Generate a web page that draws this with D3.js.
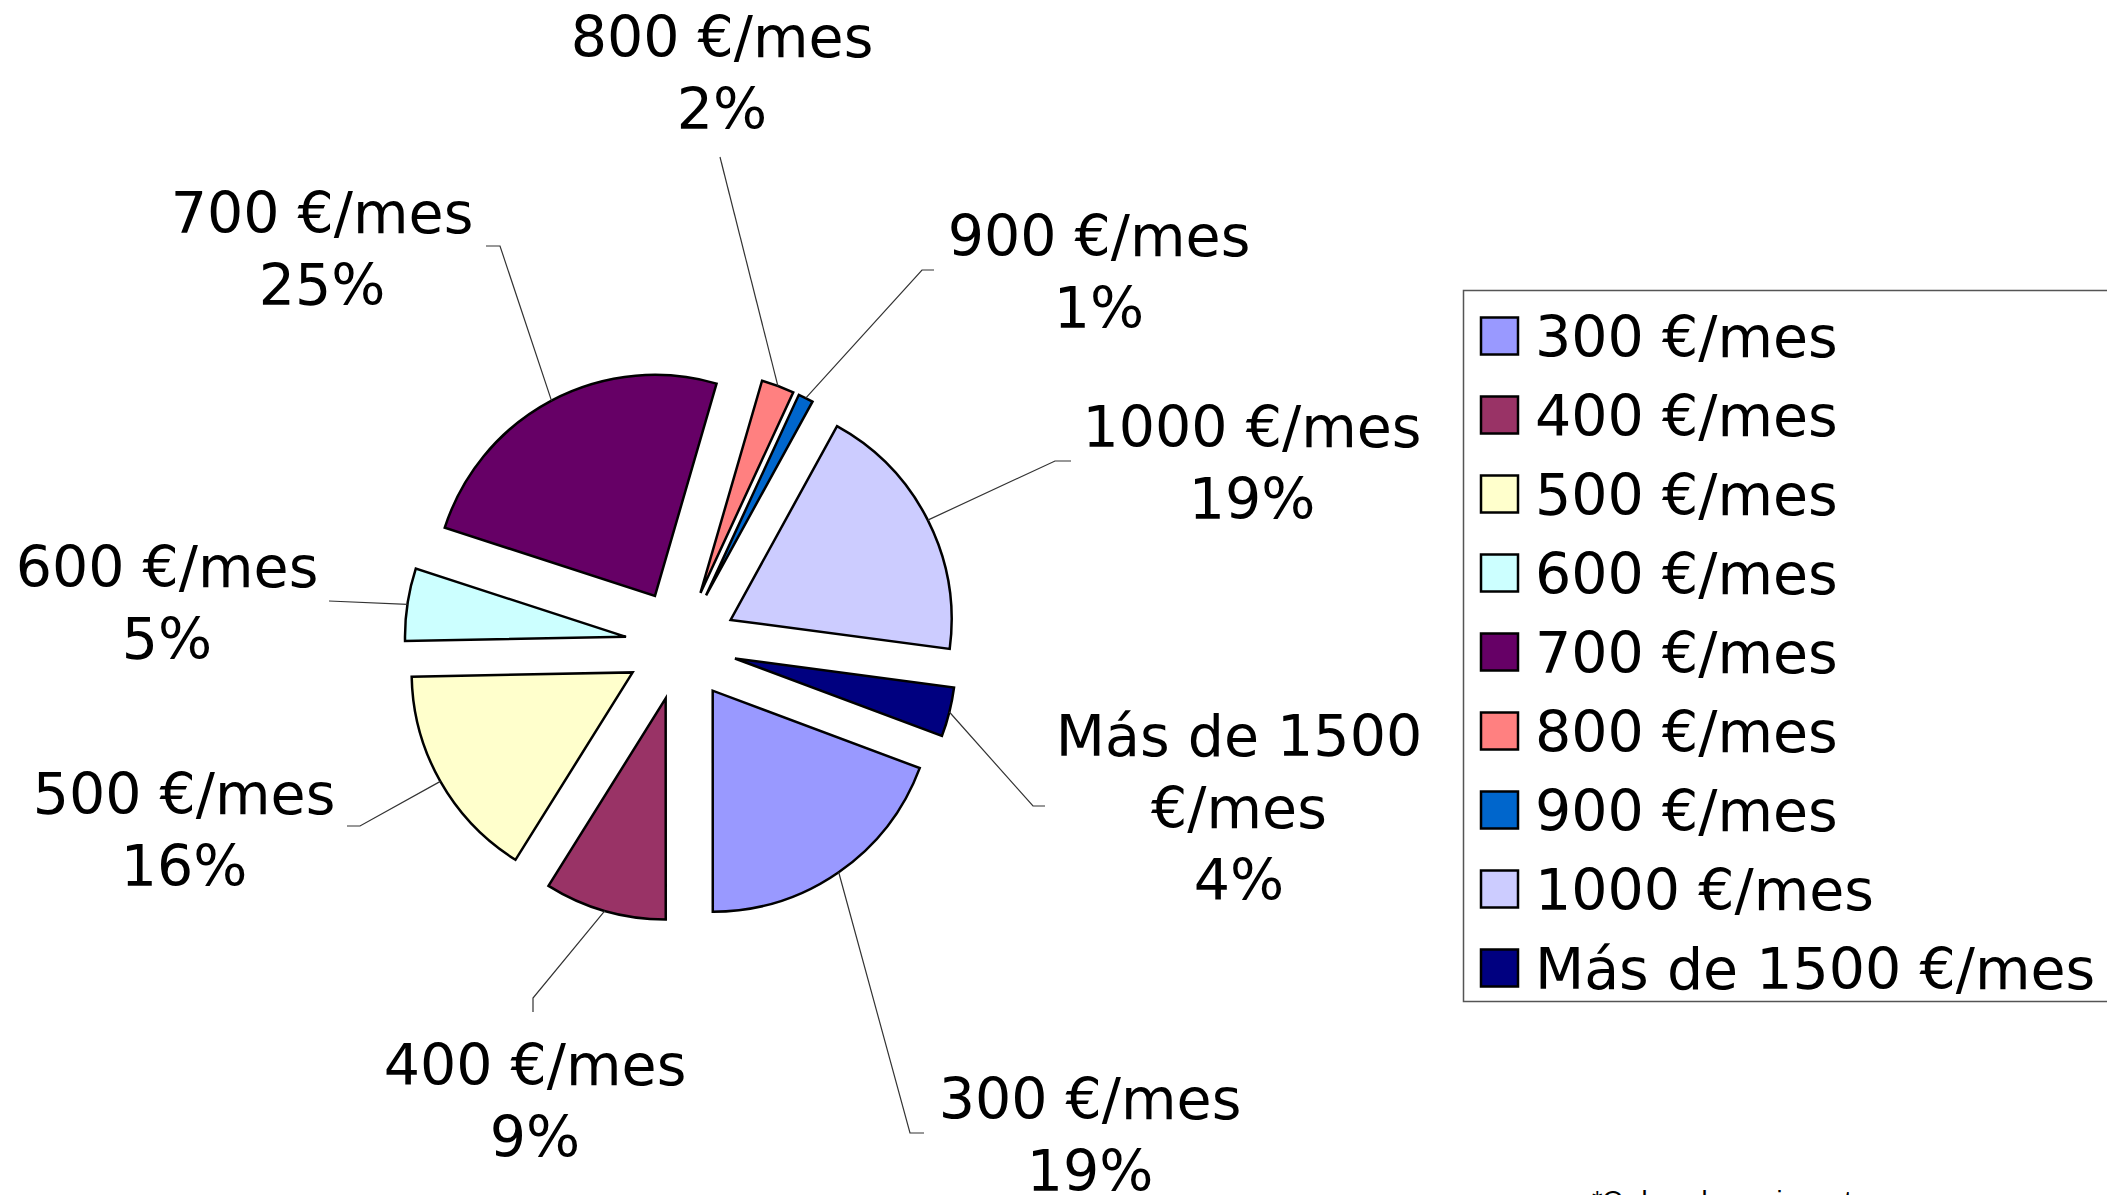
<!DOCTYPE html>
<html>
<head>
<meta charset="utf-8">
<title>Ingresos por mes</title>
<style>
    body, html {
        margin: 0;
        padding: 0;
        background: #fff;
        overflow: hidden;
    }
    .lbl, .legend text {
        font-family: "DejaVu Sans", Verdana, sans-serif;
        font-size: 57px;
        fill: #000;
    }
    .note {
        font-family: "Liberation Sans", Arial, sans-serif;
        font-size: 27px;
    }
</style>
</head>
<body>
<div id="chart"></div>
<script src="https://cdn.jsdelivr.net/npm/d3@7"></script>
<script>

    // data (share of answers, in %)
    var categories = ['300 €/mes', '400 €/mes', '500 €/mes', '600 €/mes', '700 €/mes',
                      '800 €/mes', '900 €/mes', '1000 €/mes', 'Más de 1500 €/mes'];
    var values = [19.3, 8.9, 15.8, 5.3, 24.5, 2.4, 1.1, 19.1, 3.6];
    var colors = ['#9999FF', '#993366', '#FFFFCC', '#CCFFFF', '#660066',
                  '#FF8080', '#0066CC', '#CCCCFF', '#000080'];
    var note = '*Ordenado por importe';

    var width = 2107;
    var height = 1195;
    var cx = 681, cy = 645;
    var radius = 221;
    var explode = 55.6;
    var startDeg = 110.5;
    var lineH = 72;

    // where Excel put each data label: text centre x, first line centre y, leader end points
    var labelLayout = {
        '300 €/mes':          { x: 1090, y: 1098, pts: [[924, 1133], [910, 1133]] },
        '400 €/mes':          { x: 535,  y: 1064, pts: [[533, 1012], [533, 998]] },
        '500 €/mes':          { x: 184,  y: 793,  pts: [[347, 826], [360, 826]] },
        '600 €/mes':          { x: 167,  y: 566,  pts: [[329, 601]] },
        '700 €/mes':          { x: 322,  y: 212,  pts: [[486, 246], [500, 246]] },
        '800 €/mes':          { x: 722,  y: 36,   pts: [[720, 157]] },
        '900 €/mes':          { x: 1099, y: 235,  pts: [[934, 270], [922, 270]] },
        '1000 €/mes':         { x: 1252, y: 426,  pts: [[1071, 461], [1055, 461]] },
        'Más de 1500 €/mes':  { x: 1239, y: 735,  pts: [[1045, 806], [1033, 806]] }
    };

    var total = d3.sum(values);
    var dataset = categories.map(function(c, i) {
        return { label: c, count: values[i] };
    });

    var color = d3.scaleOrdinal().domain(categories).range(colors);

    var svg = d3.select('#chart')
        .append('svg')
        .attr('width', width)
        .attr('height', height);

    var pie = d3.pie()
        .value(function(d) { return d.count; })
        .sort(null)
        .startAngle(startDeg * Math.PI / 180)
        .endAngle(startDeg * Math.PI / 180 + 2 * Math.PI);

    var arc = d3.arc()
        .innerRadius(0)
        .outerRadius(radius);

    function offset(d, r) {
        var a = (d.startAngle + d.endAngle) / 2;
        return [r * Math.sin(a), -r * Math.cos(a)];
    }

    var arcs = pie(dataset);

    var slices = svg.append('g')
        .attr('transform', 'translate(' + cx + ',' + cy + ')');

    slices.selectAll('path')
        .data(arcs)
        .enter()
        .append('path')
        .attr('d', arc)
        .attr('transform', function(d) {
            var o = offset(d, explode);
            return 'translate(' + o[0] + ',' + o[1] + ')';
        })
        .attr('fill', function(d) { return color(d.data.label); })
        .attr('stroke', '#000')
        .attr('stroke-width', 2.5)
        .attr('stroke-linejoin', 'miter');

    // leader lines
    var line = d3.line();
    svg.append('g').selectAll('path')
        .data(arcs)
        .enter()
        .append('path')
        .attr('d', function(d) {
            var o = offset(d, explode + radius);
            var pts = labelLayout[d.data.label].pts.slice();
            pts.push([cx + o[0], cy + o[1]]);
            return line(pts);
        })
        .attr('fill', 'none')
        .attr('stroke', '#333')
        .attr('stroke-width', 1.2);

    function labelLines(d) {
        var name = d.data.label;
        var lines = [];
        if (name.length > 10) {
            var k = name.lastIndexOf(' ');
            lines.push(name.slice(0, k), name.slice(k + 1));
        } else {
            lines.push(name);
        }
        // Excel rounds half up
        lines.push(Math.round(d.data.count / total * 100 + 1e-6) + '%');
        return lines;
    }

    var labels = svg.append('g').selectAll('text')
        .data(arcs)
        .enter()
        .append('text')
        .attr('class', 'lbl')
        .attr('text-anchor', 'middle');

    labels.each(function(d) {
        var pos = labelLayout[d.data.label];
        d3.select(this).selectAll('tspan')
            .data(labelLines(d))
            .enter()
            .append('tspan')
            .attr('x', pos.x)
            .attr('y', function(t, i) { return pos.y + 21 + i * lineH; })
            .text(function(t) { return t; });
    });

    // legend
    var legendRectSize = 37;
    var legendStep = 79;
    var lg = svg.append('g');

    lg.append('rect')
        .attr('x', 1463.5)
        .attr('y', 290.5)
        .attr('width', 700)
        .attr('height', 711)
        .attr('fill', '#fff')
        .attr('stroke', '#555')
        .attr('stroke-width', 1.5);

    var legend = lg.selectAll('.legend')
        .data(color.domain())
        .enter()
        .append('g')
        .attr('class', 'legend')
        .attr('transform', function(d, i) {
            return 'translate(1481,' + (336 + i * legendStep) + ')';
        });

    legend.append('rect')
        .attr('x', 0)
        .attr('y', -legendRectSize / 2)
        .attr('width', legendRectSize)
        .attr('height', legendRectSize)
        .style('fill', color)
        .style('stroke', '#000')
        .style('stroke-width', 2.5);

    legend.append('text')
        .attr('x', 54)
        .attr('y', 21)
        .text(function(d) { return d; });

    svg.append('text')
        .attr('class', 'note')
        .attr('x', 1592)
        .attr('y', 1210)
        .text(note);

</script>
</body>
</html>
